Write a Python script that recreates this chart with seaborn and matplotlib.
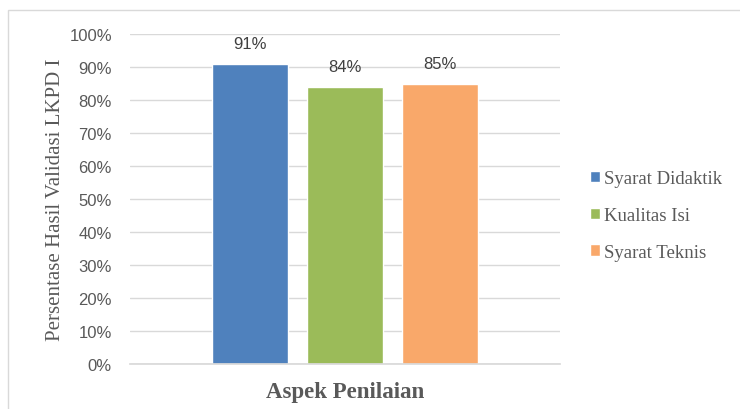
import seaborn as sns
import pandas as pd
import matplotlib.pyplot as plt
from matplotlib.patches import Rectangle
from matplotlib.ticker import PercentFormatter

series = ["Syarat Didaktik", "Kualitas Isi", "Syarat Teknis"]
values = [0.91, 0.84, 0.85]
labels = ["91%", "84%", "85%"]
colors = ["#4F81BD", "#9BBB59", "#F9A86A"]

sns.set_theme(style="white")
plt.rcParams["font.family"] = ["Liberation Sans", "DejaVu Sans"]

df = pd.DataFrame({"Aspek": [""] * 3, "Seri": series, "Nilai": values})

fig = plt.figure(figsize=(7.4, 4.1), dpi=100)
ax = fig.add_axes([130 / 740, 1 - 365 / 410, 430 / 740, 330 / 410])

sns.barplot(data=df, x="Aspek", y="Nilai", hue="Seri", palette=colors,
            width=0.663, gap=0.21, saturation=1, ax=ax, legend=True)

ax.set_ylim(0, 1.0)
ax.set_yticks([i / 10 for i in range(11)])
ax.yaxis.set_major_formatter(PercentFormatter(1.0, decimals=0))
ax.grid(axis="y", color="#D9D9D9", linewidth=1)
ax.set_axisbelow(True)
for s in ["top", "right", "left"]:
    ax.spines[s].set_visible(False)
ax.spines["bottom"].set_color("#D9D9D9")
ax.tick_params(axis="y", length=0, pad=13, labelsize=12, labelcolor="#595959")
ax.set_xticks([])

for cont, lab in zip(ax.containers, labels):
    ax.bar_label(cont, labels=[lab], padding=9, fontsize=12, color="#404040")

ax.set_ylabel("Persentase Hasil Validasi LKPD I", family="Liberation Serif",
              fontsize=15, color="#595959", labelpad=3)
ax.set_xlabel("Aspek Penilaian", family="Liberation Serif", fontsize=16.5,
              fontweight="bold", color="#595959", labelpad=12)

leg = ax.legend(loc="center left", bbox_to_anchor=(1.03, 0.45), frameon=False,
                prop={"family": "Liberation Serif", "size": 13.5},
                handlelength=0.55, handleheight=0.55, handletextpad=0.2,
                labelspacing=1.05, labelcolor="#595959")

fig.patches.append(Rectangle((8 / 740, -0.01), 1.0, 1 - 11 / 410 + 0.01,
                             transform=fig.transFigure, fill=False,
                             edgecolor="#D9D9D9", linewidth=1))

fig.savefig("out.png", dpi=100)
